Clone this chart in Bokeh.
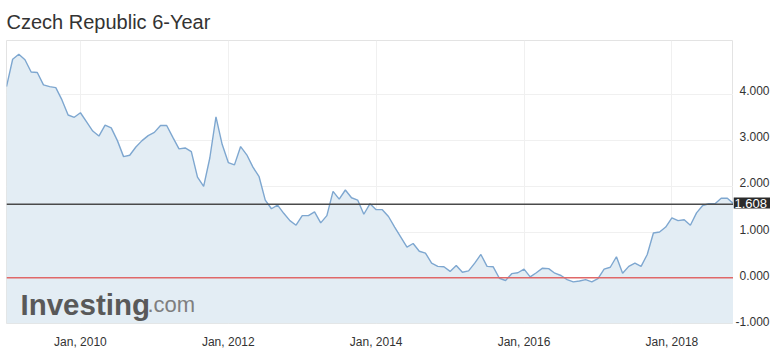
from bokeh.plotting import figure
from bokeh.layouts import row
from bokeh.models import FixedTicker, Span, Label, Range1d, Grid, ColumnDataSource
from bokeh.core.properties import value
from bokeh.embed import file_html
from bokeh.resources import INLINE

# ---- data (monthly, Jan 2009 .. Nov 2018) ----
start_year = 2009
yields = [4.18, 4.78, 4.89, 4.77, 4.50, 4.49, 4.22, 4.18, 4.16, 3.89, 3.56, 3.51,
          3.61, 3.41, 3.21, 3.10, 3.34, 3.28, 3.00, 2.65, 2.68, 2.86, 3.00, 3.11,
          3.18, 3.33, 3.33, 3.07, 2.82, 2.84, 2.76, 2.20, 2.00, 2.62, 3.52, 2.92,
          2.52, 2.47, 2.87, 2.69, 2.42, 2.21, 1.70, 1.51, 1.59, 1.41, 1.25, 1.15,
          1.36, 1.36, 1.44, 1.20, 1.36, 1.89, 1.72, 1.92, 1.75, 1.70, 1.39, 1.62,
          1.49, 1.49, 1.34, 1.11, 0.89, 0.67, 0.75, 0.58, 0.54, 0.32, 0.25, 0.24,
          0.14, 0.27, 0.12, 0.15, 0.32, 0.51, 0.25, 0.24, -0.01, -0.06, 0.09, 0.11,
          0.19, 0.02, 0.11, 0.21, 0.20, 0.10, 0.05, -0.04, -0.09, -0.07, -0.04, -0.09,
          -0.02, 0.19, 0.23, 0.46, 0.10, 0.25, 0.32, 0.25, 0.51, 0.98, 1.00, 1.11,
          1.31, 1.25, 1.27, 1.15, 1.42, 1.58, 1.62, 1.62, 1.74, 1.74, 1.62]
x_years = [start_year + i / 12 for i in range(len(yields))]

x_tick_years = [2010, 2012, 2014, 2016, 2018]
x_tick_labels = ["Jan, 2010", "Jan, 2012", "Jan, 2014", "Jan, 2016", "Jan, 2018"]
y_ticks = [-1, 0, 1, 2, 3, 4]
y_tick_labels = ["-1.000", "0.000", "1.000", "2.000", "3.000", "4.000"]
last_price = 1.608
zero_level = 0
y_min, y_max = -1.0, 5.19
title_text = "Czech Republic 6-Year"

FONT = "Liberation Sans"

# ---- layout constants (pixels) ----
HEIGHT = 352
MAIN_W = 733
SIDE_W = 37
TOP = 37
BOTTOM = 29

# ================= main chart =================
p = figure(width=MAIN_W, height=HEIGHT, output_backend="svg", toolbar_location=None,
           x_range=Range1d(x_years[0], x_years[-1]), y_range=Range1d(y_min, y_max),
           y_axis_location=None, title=title_text,
           min_border_left=6, min_border_right=0, min_border_top=TOP, min_border_bottom=BOTTOM)
if "frame_align" in p.properties():
    p.frame_align = False

p.background_fill_color = "white"
p.border_fill_color = "white"
p.outline_line_color = "#e3e3e3"
p.outline_line_width = 1

p.title.text_font = FONT
p.title.text_font_size = "20px"
p.title.text_font_style = "normal"
p.title.text_color = "#333333"
p.title.align = "left"
p.title.standoff = 16

xa = p.xaxis[0]
xa.ticker = FixedTicker(ticks=x_tick_years)
xa.major_label_overrides = {yr: lab for yr, lab in zip(x_tick_years, x_tick_labels)}
xa.axis_line_color = None
xa.major_tick_line_color = None
xa.minor_tick_line_color = None
xa.major_tick_out = 0
xa.major_tick_in = 0
xa.major_label_standoff = 11
xa.major_label_text_font = FONT
xa.major_label_text_font_size = "12px"
xa.major_label_text_color = "#333333"

p.xgrid.ticker = FixedTicker(ticks=x_tick_years)
p.xgrid.grid_line_color = "#f0f0f0"
p.ygrid.visible = False
p.add_layout(Grid(dimension=1, ticker=FixedTicker(ticks=y_ticks), grid_line_color="#f0f0f0"))

p.varea(x=x_years, y1=y_min, y2=yields, fill_color="#e3edf4")
p.line(x=x_years, y=yields, line_color="#7ea7d0", line_width=1.4)

p.add_layout(Span(location=zero_level, dimension="width", line_color="#e06868", line_width=1.5))
p.add_layout(Span(location=last_price, dimension="width", line_color="#4a4a4a", line_width=1.6))

# watermark logo
p.add_layout(Label(x=14, y=19, x_units="screen", y_units="screen", text="Investing",
                   text_font=FONT, text_font_size="29.5px", text_font_style="bold",
                   text_color="#595959", text_baseline="alphabetic"))
p.add_layout(Label(x=141, y=19, x_units="screen", y_units="screen", text=".com",
                   text_font=FONT, text_font_size="22px", text_font_style="normal",
                   text_color="#7f7f7f", text_baseline="alphabetic"))

# ================= right value scale =================
px_per_unit = (HEIGHT - TOP - BOTTOM) / (y_max - y_min)
side_y_range = Range1d(y_min - BOTTOM / px_per_unit, y_max)
q = figure(width=SIDE_W, height=HEIGHT, output_backend="svg", toolbar_location=None,
           x_range=Range1d(0, 1), y_range=side_y_range,
           x_axis_location=None, y_axis_location=None,
           min_border_left=0, min_border_right=0, min_border_top=TOP, min_border_bottom=0)
if "frame_align" in q.properties():
    q.frame_align = False
q.outline_line_color = None
q.grid.visible = False
q.background_fill_color = "white"
q.border_fill_color = "white"

src = ColumnDataSource(dict(y=y_ticks, label=y_tick_labels, x=[1] * len(y_ticks)))
q.text(x="x", y="y", text="label", source=src, x_offset=-1, y_offset=-2,
       text_font=value(FONT), text_font_size="12px", text_color="#333333",
       text_baseline="middle", text_align="right")

q.add_layout(Label(x=0, y=last_price, x_units="screen", y_units="data",
                   text=f"{last_price:.3f}", text_font=FONT, text_font_size="13px",
                   text_color="white", text_baseline="middle", text_align="left",
                   background_fill_color="#2b2b2b",
                   padding=dict(left=1, right=4, top=1, bottom=1)))

layout = row(p, q)
open("out.html", "w").write(file_html(layout, INLINE))
